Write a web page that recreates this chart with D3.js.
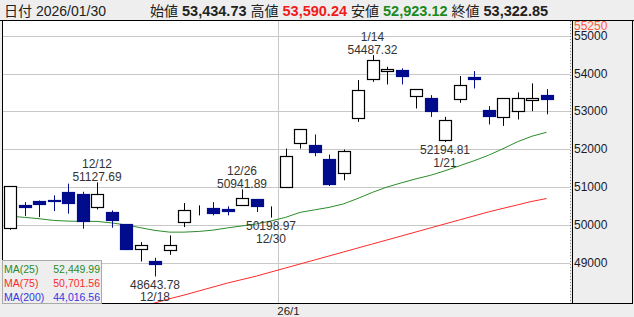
<!DOCTYPE html>
<html>
<head>
<meta charset="utf-8">
<script src="https://cdn.jsdelivr.net/npm/d3@7"></script>
<style>
body { margin: 0; background: #fff; }
svg { display: block; }
text { font-family: "Liberation Sans", Arial, "Noto Sans CJK JP", sans-serif; }
</style>
</head>
<body>
<div id="chart"></div>
<script>
const dates = ["12/4","12/5","12/8","12/9","12/10","12/11","12/12","12/15","12/16","12/17","12/18","12/19",
    "12/22","12/23","12/24","12/25","12/26","12/29","12/30","1/5","1/6","1/7","1/8","1/9","1/13","1/14",
    "1/15","1/16","1/19","1/20","1/21","1/22","1/23","1/26","1/27","1/28","1/29","1/30"];
const openV = [49905,50521,50635,50655,50873,50831,50460,50344,50019,49376,49040,49349,50063,50355,50450,50415,
    50521,50680,50310,50989,52153,52127,51757,51360,52815,53847,54058,54093,53386,53344,52230,53317,53900,53034,
    52831,53016,53299,53434.73];
const highV = [51030,50608,50650,50786,51095,50880,51127.69,50389,50030,49550,49138,49728,50582,50521,50608,50495,
    50941.89,50690,50495,52021,52530,52392,51862,51995,53828,54487.32,54180,54138,53590,53431,52857,53934,54066,
    53140,53350,53503,53741,53590.24];
const lowV = [49878,50238,50212,50370,50302,49905,50415,49931,49340,49040,48643.78,49217,49947,50257,50257,50257,
    50510,50344,50198.97,50980,52021,51817,51032,51183,52725,53783,53714,53714,53079,52857,52194.81,53228,53608,
    52656,52619,52788,53008,52923.12];
const closeV = [51024,50460,50566,50640,50593,50106,50812,50143,49349,49481,48952,49481,50389,50362,50328,50370,
    50714,50503,50318,51817,52524,51931,51095,51950,53563,54357,54111,53942,53582,52989,52770,53696,53847,52884,
    53344,53360,53360,53322.85];
const ma25 = [50238,50204,50169,50124,50106,50098,50098,50058,50005,49931,49860,49815,49815,49833,49868,49926,
    49979,50032,50111,50204,50336,50402,50468,50561,50706,50865,51005,51116,51222,51315,51434,51566,51698,51844,
    52016,52201,52347,52449.99];
const ma75 = [null,null,null,null,null,null,null,null,null,47836,47947,48056,48153,48259,48365,48471,48563,48656,
    48762,48868,48974,49079,49185,49291,49397,49503,49608,49714,49820,49926,50032,50138,50243,50349,50442,50534,
    50627,50701.56];
const yTicks = [49000,50000,51000,52000,53000,54000,55000];
const axisTop = 55250;
const highMarks = [6, 16, 25];
const lowMarks = [10, 18, 30];
const monthStart = 19;
const monthLabel = "26/1";
const headerDate = "2026/01/30";
const quoteLabels = ["始値","高値","安値","終値"];
const quoteValues = [53434.73, 53590.24, 52923.12, 53322.85];
const maNames = ["MA(25)","MA(75)","MA(200)"];
const maLast = [52449.99, 50701.56, 44016.56];

const W = 634, H = 317;
const plot = { left: 3, right: 570, top: 21, bottom: 303.5 };
const UP_STROKE = "#000", DOWN = "#000c8c";
const quoteColors = ["#222", "#f21b1b", "#1b8a1b", "#222"];
const maColors = ["#2a8c2a", "#ff2a2a", "#3535e0"];
const fmt = d3.format(",.2f");

const svg = d3.select("#chart").append("svg")
    .attr("width", W)
    .attr("height", H);

// фон
svg.append("rect").attr("width", W).attr("height", H).attr("fill", "#eeeeee");
svg.append("rect")
    .attr("x", plot.left).attr("y", plot.top)
    .attr("width", plot.right - plot.left).attr("height", plot.bottom - plot.top)
    .attr("fill", "#fff");

const x = d3.scaleBand()
    .domain(d3.range(dates.length))
    .range([2.75, 2.75 + dates.length * 14.5]);
const cx = i => x(i) + x.bandwidth() / 2;

const y = d3.scaleLinear()
    .domain([49000, 55000])
    .range([263, 35.7]);

svg.append("clipPath").attr("id", "clip")
    .append("rect")
    .attr("x", plot.left).attr("y", plot.top)
    .attr("width", plot.right - plot.left).attr("height", plot.bottom - plot.top);

// сетка
svg.append("g")
    .selectAll("line")
    .data(yTicks)
    .enter()
    .append("line")
    .attr("x1", plot.left).attr("x2", plot.right)
    .attr("y1", d => Math.round(y(d)) + 0.5)
    .attr("y2", d => Math.round(y(d)) + 0.5)
    .attr("stroke", "#c8c8c8");

const gx = Math.round((cx(monthStart - 1) + cx(monthStart)) / 2) + 0.5;
svg.append("line")
    .attr("x1", gx).attr("x2", gx)
    .attr("y1", plot.top).attr("y2", plot.bottom)
    .attr("stroke", "#c8c8c8");

const g = svg.append("g").attr("clip-path", "url(#clip)");

// скользящие средние
const lineMa = d3.line()
    .defined(d => d != null)
    .x((d, i) => cx(i))
    .y(d => y(d));

g.append("path")
    .datum(ma75)
    .attr("fill", "none")
    .attr("stroke", maColors[1])
    .attr("stroke-width", 1)
    .attr("d", lineMa);

g.append("path")
    .datum(ma25)
    .attr("fill", "none")
    .attr("stroke", maColors[0])
    .attr("stroke-width", 1)
    .attr("d", lineMa);

// свечи
const candles = g.selectAll("g.candle")
    .data(d3.range(dates.length))
    .enter()
    .append("g");

candles.append("line")
    .attr("x1", i => Math.round(cx(i)) + 0.5)
    .attr("x2", i => Math.round(cx(i)) + 0.5)
    .attr("y1", i => y(highV[i]))
    .attr("y2", i => y(lowV[i]))
    .attr("stroke", i => closeV[i] >= openV[i] ? UP_STROKE : DOWN);

candles.append("rect")
    .attr("x", i => Math.round(cx(i)) - 6 + 0.5)
    .attr("width", 12)
    .attr("y", i => Math.round(y(Math.max(openV[i], closeV[i]))) + 0.5)
    .attr("height", i => Math.max(0, Math.round(y(Math.min(openV[i], closeV[i])) - y(Math.max(openV[i], closeV[i])))))
    .attr("fill", i => closeV[i] >= openV[i] ? "#fff" : DOWN)
    .attr("stroke", i => closeV[i] >= openV[i] ? UP_STROKE : DOWN)
    .attr("stroke-width", 1.2);

// подписи максимумов и минимумов
const notes = svg.append("g")
    .attr("font-size", "12px")
    .attr("fill", "#333")
    .attr("text-anchor", "middle");

highMarks.forEach(i => {
    const yy = y(highV[i]);
    notes.append("text").attr("x", cx(i)).attr("y", yy - 14).text(dates[i]);
    notes.append("text").attr("x", cx(i)).attr("y", yy - 1.5).text(highV[i].toFixed(2));
});

lowMarks.forEach(i => {
    const yy = y(lowV[i]);
    notes.append("text").attr("x", cx(i)).attr("y", yy + 12.5).text(lowV[i].toFixed(2));
    notes.append("text").attr("x", cx(i)).attr("y", yy + 25).text(dates[i]);
});

// правая ось
svg.append("line")
    .attr("x1", 570.5).attr("x2", 570.5)
    .attr("y1", plot.top).attr("y2", plot.bottom)
    .attr("stroke", "#888")
    .attr("stroke-dasharray", "1,2");
svg.append("line")
    .attr("x1", 572.5).attr("x2", 572.5)
    .attr("y1", 20).attr("y2", plot.bottom)
    .attr("stroke", "#000");
svg.append("line")
    .attr("x1", 632.5).attr("x2", 632.5)
    .attr("y1", 20).attr("y2", plot.bottom)
    .attr("stroke", "#000");

svg.append("g")
    .selectAll("text")
    .data(yTicks)
    .enter()
    .append("text")
    .attr("x", 574)
    .attr("y", d => y(d) + 4)
    .attr("font-size", "12px")
    .attr("fill", "#1a1a2a")
    .text(d => d);

svg.append("text")
    .attr("x", 574)
    .attr("y", y(axisTop) + 3.5)
    .attr("font-size", "12px")
    .attr("fill", "#ff5a3a")
    .text(axisTop);

// рамка
svg.append("line")
    .attr("x1", 2.5).attr("x2", 2.5)
    .attr("y1", 20).attr("y2", plot.bottom)
    .attr("stroke", "#000");
svg.append("line")
    .attr("x1", 2).attr("x2", 633)
    .attr("y1", plot.bottom).attr("y2", plot.bottom)
    .attr("stroke", "#000");
svg.append("line")
    .attr("x1", 0).attr("x2", W)
    .attr("y1", 20.5).attr("y2", 20.5)
    .attr("stroke", "#000");

svg.append("text")
    .attr("x", gx + 10)
    .attr("y", 315)
    .attr("text-anchor", "middle")
    .attr("font-size", "11.5px")
    .attr("fill", "#222")
    .text(monthLabel);

// легенда
const legend = svg.append("g");
legend.append("rect")
    .attr("x", 2.5).attr("y", 260.5)
    .attr("width", 99).attr("height", 43)
    .attr("fill", "#eeeeee")
    .attr("stroke", "#aaa");

maNames.forEach((name, k) => {
    legend.append("text")
        .attr("x", 4).attr("y", 273 + k * 14)
        .attr("font-size", "10.5px")
        .attr("fill", maColors[k])
        .text(name);
    legend.append("text")
        .attr("x", 100).attr("y", 273 + k * 14)
        .attr("text-anchor", "end")
        .attr("font-size", "10.5px")
        .attr("fill", maColors[k])
        .text(fmt(maLast[k]));
});

// заголовок
const head = svg.append("g").attr("fill", "#222");
head.append("text")
    .attr("x", 4).attr("y", 15.5)
    .attr("font-size", "14px")
    .text("日付 " + headerDate);

let hx = 150;
quoteLabels.forEach((label, k) => {
    const t1 = head.append("text")
        .attr("x", hx).attr("y", 15.5)
        .attr("font-size", "14px")
        .text(label);
    hx += t1.node().getComputedTextLength() + 4;
    const t2 = head.append("text")
        .attr("x", hx).attr("y", 15.5)
        .attr("font-size", "14.5px")
        .attr("font-weight", "bold")
        .attr("fill", quoteColors[k])
        .text(fmt(quoteValues[k]));
    hx += t2.node().getComputedTextLength() + 4;
});
</script>
</body>
</html>
